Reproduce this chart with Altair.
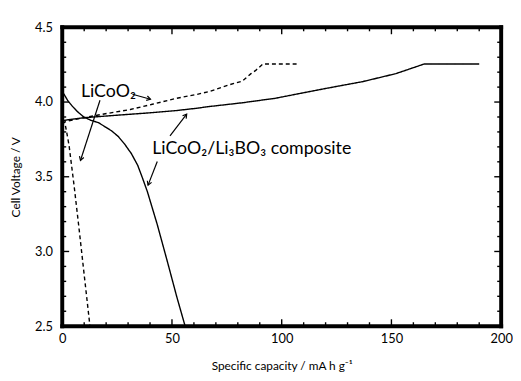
import math
import altair as alt
import pandas as pd

# ---------------- data ----------------
comp_ch_x = [0, 2, 10, 25, 40, 52, 61, 67, 82, 97, 119, 137, 152, 159, 165, 190]
comp_ch_y = [3.875, 3.88, 3.895, 3.912, 3.928, 3.943, 3.958, 3.97, 3.995, 4.025, 4.088, 4.137, 4.19, 4.225, 4.255, 4.255]

comp_dis_x = [0, 0.9, 2.5, 4.6, 7, 9.8, 13, 16.5, 20, 22.5, 25.5, 28.4, 31.5, 34.4, 36.6, 38.8, 43.3, 47.8, 52.2, 56.0]
comp_dis_y = [4.07, 4.05, 4.01, 3.972, 3.935, 3.9, 3.878, 3.862, 3.83, 3.807, 3.77, 3.719, 3.655, 3.576, 3.49, 3.4, 3.18, 2.938, 2.696, 2.5]

lco_ch_x = [0, 3, 10, 17, 31, 41, 52, 61, 67, 76, 82, 86, 88, 91.5, 108]
lco_ch_y = [3.86, 3.875, 3.895, 3.915, 3.95, 3.985, 4.025, 4.05, 4.07, 4.115, 4.14, 4.19, 4.21, 4.255, 4.255]

lco_dis_x = [0, 1.2, 2.0, 3.1, 5.4, 7.6, 9.8, 12.4, 12.6]
lco_dis_y = [3.88, 3.86, 3.8, 3.71, 3.44, 3.16, 2.87, 2.53, 2.5]

x_major = [0, 50, 100, 150, 200]
x_minor = [10, 20, 30, 40, 60, 70, 80, 90, 110, 120, 130, 140, 160, 170, 180, 190]
y_major = [2.5, 3.0, 3.5, 4.0, 4.5]
y_minor = [2.6, 2.7, 2.8, 2.9, 3.1, 3.2, 3.3, 3.4, 3.6, 3.7, 3.8, 3.9, 4.1, 4.2, 4.3, 4.4]

label_text = ["LiCoO₂", "LiCoO₂/Li₃BO₃ composite"]
label_x = [8.5, 41.0]
label_y = [4.068, 3.682]

arrow_x1 = [32.0, 17.2, 49.1, 43.3]
arrow_y1 = [4.052, 4.012, 3.774, 3.602]
arrow_x2 = [40.2, 8.3, 56.7, 39.1]
arrow_y2 = [4.019, 3.609, 3.919, 3.444]

# ---------------- layout ----------------
X_DOM = [0, 200]
Y_DOM = [2.5, 4.5]
W, H = 445, 303
PAD = {"left": 55, "top": 17, "right": 12, "bottom": 55}
FONT = "Lato"
FRAME = 4.0      # frame thickness, px
TICK_W = 1.4     # tick thickness, px

PX_X = W / (X_DOM[1] - X_DOM[0])
PX_Y = H / (Y_DOM[1] - Y_DOM[0])

rows = []
for name, xs_, ys_ in [("comp_ch", comp_ch_x, comp_ch_y), ("comp_dis", comp_dis_x, comp_dis_y),
                       ("lco_ch", lco_ch_x, lco_ch_y), ("lco_dis", lco_dis_x, lco_dis_y)]:
    for i, (a, b) in enumerate(zip(xs_, ys_)):
        rows.append({"cap": a, "volt": b, "curve": name, "idx": i})
df = pd.DataFrame(rows)

arrows = pd.DataFrame({"x1": arrow_x1, "y1": arrow_y1, "x2": arrow_x2, "y2": arrow_y2})
angs = []
for a, b, c, d in zip(arrow_x1, arrow_y1, arrow_x2, arrow_y2):
    dx = (c - a) * PX_X
    dy = -(d - b) * PX_Y
    angs.append(math.degrees(math.atan2(dx, -dy)) % 360)
arrows["ang"] = angs

labels = pd.DataFrame({"t": label_text, "x": label_x, "y": label_y})

# inward ticks on all four sides as thin filled rectangles (data units)
hw_x = TICK_W / 2 / PX_X
hw_y = TICK_W / 2 / PX_Y
seg = []
for vals, ln in [(x_major, 7), (x_minor, 4)]:
    for v in vals:
        seg.append({"ax": v - hw_x, "bx": v + hw_x, "ay": Y_DOM[0], "by": Y_DOM[0] + ln / PX_Y})
        seg.append({"ax": v - hw_x, "bx": v + hw_x, "ay": Y_DOM[1], "by": Y_DOM[1] - ln / PX_Y})
for vals, ln in [(y_major, 7), (y_minor, 4)]:
    for v in vals:
        seg.append({"ay": v - hw_y, "by": v + hw_y, "ax": X_DOM[0], "bx": X_DOM[0] + ln / PX_X})
        seg.append({"ay": v - hw_y, "by": v + hw_y, "ax": X_DOM[1], "bx": X_DOM[1] - ln / PX_X})
ticks_df = pd.DataFrame(seg)

# frame as four filled rectangles centred on the plot edges
fx = FRAME / 2 / PX_X
fy = FRAME / 2 / PX_Y
frame_df = pd.DataFrame({
    "ax": [X_DOM[0] - fx, X_DOM[0] - fx, X_DOM[0] - fx, X_DOM[1] - fx],
    "bx": [X_DOM[1] + fx, X_DOM[1] + fx, X_DOM[0] + fx, X_DOM[1] + fx],
    "ay": [Y_DOM[0] - fy, Y_DOM[1] - fy, Y_DOM[0] - fy, Y_DOM[0] - fy],
    "by": [Y_DOM[0] + fy, Y_DOM[1] + fy, Y_DOM[1] + fy, Y_DOM[1] + fy],
})

xs = alt.Scale(domain=X_DOM, nice=False, zero=False)
ys = alt.Scale(domain=Y_DOM, nice=False, zero=False)

x_axis = alt.Axis(orient="bottom", values=x_major, ticks=False, domain=False, grid=False,
                  labelFont=FONT, labelFontSize=13, labelColor="black", labelPadding=7,
                  labelFlush=False, title="Specific capacity / mA h g⁻¹",
                  titleFont=FONT, titleFontSize=12, titleFontWeight="normal",
                  titleColor="black", titlePadding=15)
y_axis = alt.Axis(orient="left", values=y_major, format=".1f", ticks=False, domain=False,
                  grid=False, labelFont=FONT, labelFontSize=13, labelColor="black",
                  labelPadding=10, labelFlush=False, title="Cell Voltage / V",
                  titleFont=FONT, titleFontSize=12, titleFontWeight="normal",
                  titleColor="black", titlePadding=12)


def X(field):
    return alt.X(field, scale=xs, axis=x_axis)


def Y(field):
    return alt.Y(field, scale=ys, axis=y_axis)


lines = alt.Chart(df).mark_line(color="black", strokeWidth=1.4).encode(
    x=X("cap:Q"),
    y=Y("volt:Q"),
    detail="curve:N",
    strokeDash=alt.StrokeDash("curve:N", scale=alt.Scale(
        domain=["comp_ch", "comp_dis", "lco_ch", "lco_dis"],
        range=[[1, 0], [1, 0], [4, 3], [4, 3]]), legend=None),
    order="idx:Q",
)

tick_rects = alt.Chart(ticks_df).mark_rect(color="black", opacity=1).encode(
    x=X("ax:Q"), y=Y("ay:Q"), x2="bx:Q", y2="by:Q",
)

frame = alt.Chart(frame_df).mark_rect(color="black", opacity=1).encode(
    x=X("ax:Q"), y=Y("ay:Q"), x2="bx:Q", y2="by:Q",
)

arrow_lines = alt.Chart(arrows).mark_rule(color="black", strokeWidth=1.2).encode(
    x=X("x1:Q"), y=Y("y1:Q"), x2="x2:Q", y2="y2:Q",
)
arrow_heads = alt.Chart(arrows).mark_point(
    shape="M -0.6 1 L 0 0 L 0.6 1", filled=False, color="black", strokeWidth=1.2,
    size=60, opacity=1,
).encode(
    x=X("x2:Q"), y=Y("y2:Q"), angle=alt.Angle("ang:Q", scale=None),
)

texts = alt.Chart(labels).mark_text(align="left", baseline="middle", font=FONT,
                                    fontSize=18, color="black").encode(
    x=X("x:Q"), y=Y("y:Q"), text="t:N",
)

chart = alt.layer(lines, arrow_lines, arrow_heads, texts, tick_rects, frame).properties(
    width=W, height=H, padding=PAD, autosize=alt.AutoSizeParams(type="none"),
    background="white",
).configure_view(stroke="transparent")

chart.save("out.html", embed_options={"renderer": "svg", "actions": False})
